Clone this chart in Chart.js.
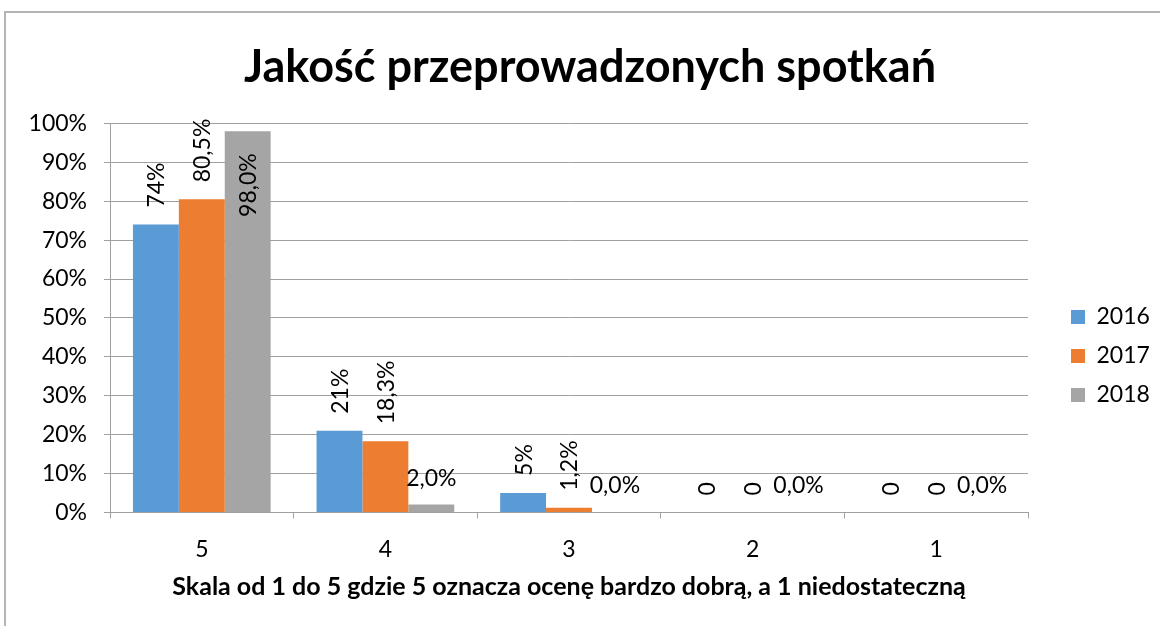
<!DOCTYPE html>
<html>
<head>
<meta charset="utf-8">
<script src="https://cdn.jsdelivr.net/npm/chart.js@4.4.1/dist/chart.umd.min.js"></script>
<style>
  html, body { margin: 0; padding: 0; background: #fff; }
  #wrap { position: relative; width: 1160px; height: 626px; overflow: hidden; }
  #frame { position: absolute; left: 4px; top: 11px; width: 1200px; height: 700px; border: 2px solid #b4b4b4; box-sizing: border-box; }
  #wrap canvas { position: absolute; left: 0; top: 0; }
</style>
</head>
<body>
<div id="wrap">
  <div id="frame"></div>
  <canvas id="bar-chart" width="1160" height="626"></canvas>
</div>
<script>
const categories = ["5", "4", "3", "2", "1"];
const years = ["2016", "2017", "2018"];
const values2016 = [74, 21, 5, 0, 0];
const values2017 = [80.5, 18.3, 1.2, 0, 0];
const values2018 = [98.0, 2.0, 0.0, 0.0, 0.0];
const yTicks = [0, 10, 20, 30, 40, 50, 60, 70, 80, 90, 100];
const colors = ["#5b9bd5", "#ed7d31", "#a5a5a5"];

const FONT = "Lato";

// label formats as in the source sheet
function fmtInt(v) { return v === 0 ? "0" : v + "%"; }
function fmtDec(v) { return v === 0 ? "0" : v.toFixed(1).replace(".", ",") + "%"; }
function fmtDecAll(v) { return v.toFixed(1).replace(".", ",") + "%"; }
const formats = [fmtInt, fmtDec, fmtDecAll];

const barLabels = {
  id: "barLabels",
  afterDatasetsDraw(chart) {
    const ctx = chart.ctx;
    ctx.save();
    ctx.fillStyle = "#000";
    ctx.font = "23px " + FONT;
    chart.data.datasets.forEach((ds, di) => {
      const meta = chart.getDatasetMeta(di);
      meta.data.forEach((bar, i) => {
        const v = ds.data[i];
        const txt = formats[di](v);
        ctx.save();
        if (di < 2) {
          ctx.translate(bar.x + 1, bar.y - 17);
          ctx.rotate(-Math.PI / 2);
          ctx.textAlign = "left";
          ctx.textBaseline = "middle";
          ctx.fillText(txt, 0, 0);
        } else if (v > 90) {
          ctx.translate(bar.x + 1, bar.y + 22);
          ctx.rotate(-Math.PI / 2);
          ctx.textAlign = "right";
          ctx.textBaseline = "middle";
          ctx.fillText(txt, 0, 0);
        } else {
          ctx.textAlign = "center";
          ctx.textBaseline = "alphabetic";
          ctx.fillText(txt, bar.x, bar.y - 19);
        }
        ctx.restore();
      });
    });
    ctx.restore();
  }
};

// legend and title sit a bit off where chart.js would put them
const placeBoxes = {
  id: "placeBoxes",
  beforeInit(chart) {
    const fit = chart.legend.fit;
    chart.legend.fit = function () { fit.call(this); this.width = 132; };
  },
  afterLayout(chart) {
    chart.legend.left += 27;
    chart.legend.top += 55;
    chart.legend.bottom += 55;
    chart.titleBlock.left += 20;
  }
};

new Chart(document.getElementById("bar-chart"), {
  type: 'bar',
  data: {
    labels: categories,
    datasets: [
      { label: years[0], data: values2016, backgroundColor: colors[0] },
      { label: years[1], data: values2017, backgroundColor: colors[1] },
      { label: years[2], data: values2018, backgroundColor: colors[2] }
    ]
  },
  options: {
    responsive: false,
    animation: false,
    layout: { padding: { left: 0, right: 0, top: 0, bottom: 24 } },
    datasets: { bar: { categoryPercentage: 0.75, barPercentage: 1.0 } },
    plugins: {
      title: {
        display: true,
        text: 'Jakość przeprowadzonych spotkań',
        color: '#000',
        font: { family: FONT, size: 45, weight: 'bold' },
        padding: { top: 40, bottom: 29.5 }
      },
      legend: {
        position: 'right',
        labels: {
          boxWidth: 14, boxHeight: 14,
          color: '#000',
          padding: 16,
          font: { family: FONT, size: 23 }
        }
      },
      tooltip: { enabled: false }
    },
    scales: {
      x: {
        grid: { display: true, drawOnChartArea: false, drawTicks: true, tickLength: 6, color: '#a0a0a0' },
        border: { display: true, color: '#a0a0a0' },
        ticks: { color: '#000', padding: 17, font: { family: FONT, size: 23 } },
        title: {
          display: true,
          text: 'Skala od 1 do 5 gdzie 5 oznacza ocenę bardzo dobrą, a 1 niedostateczną',
          color: '#000',
          font: { family: FONT, size: 25, weight: 'bold' },
          padding: { top: -8, bottom: 0 }
        }
      },
      y: {
        min: 0, max: 100,
        afterBuildTicks: s => { s.ticks = yTicks.map(v => ({ value: v })); },
        afterFit: s => { s.width = 110; },
        grid: { color: '#a0a0a0', tickLength: 6 },
        border: { display: true, color: '#a0a0a0' },
        ticks: { color: '#000', padding: 17, font: { family: FONT, size: 23 }, callback: v => v + '%' }
      }
    }
  },
  plugins: [barLabels, placeBoxes]
});
</script>
</body>
</html>
